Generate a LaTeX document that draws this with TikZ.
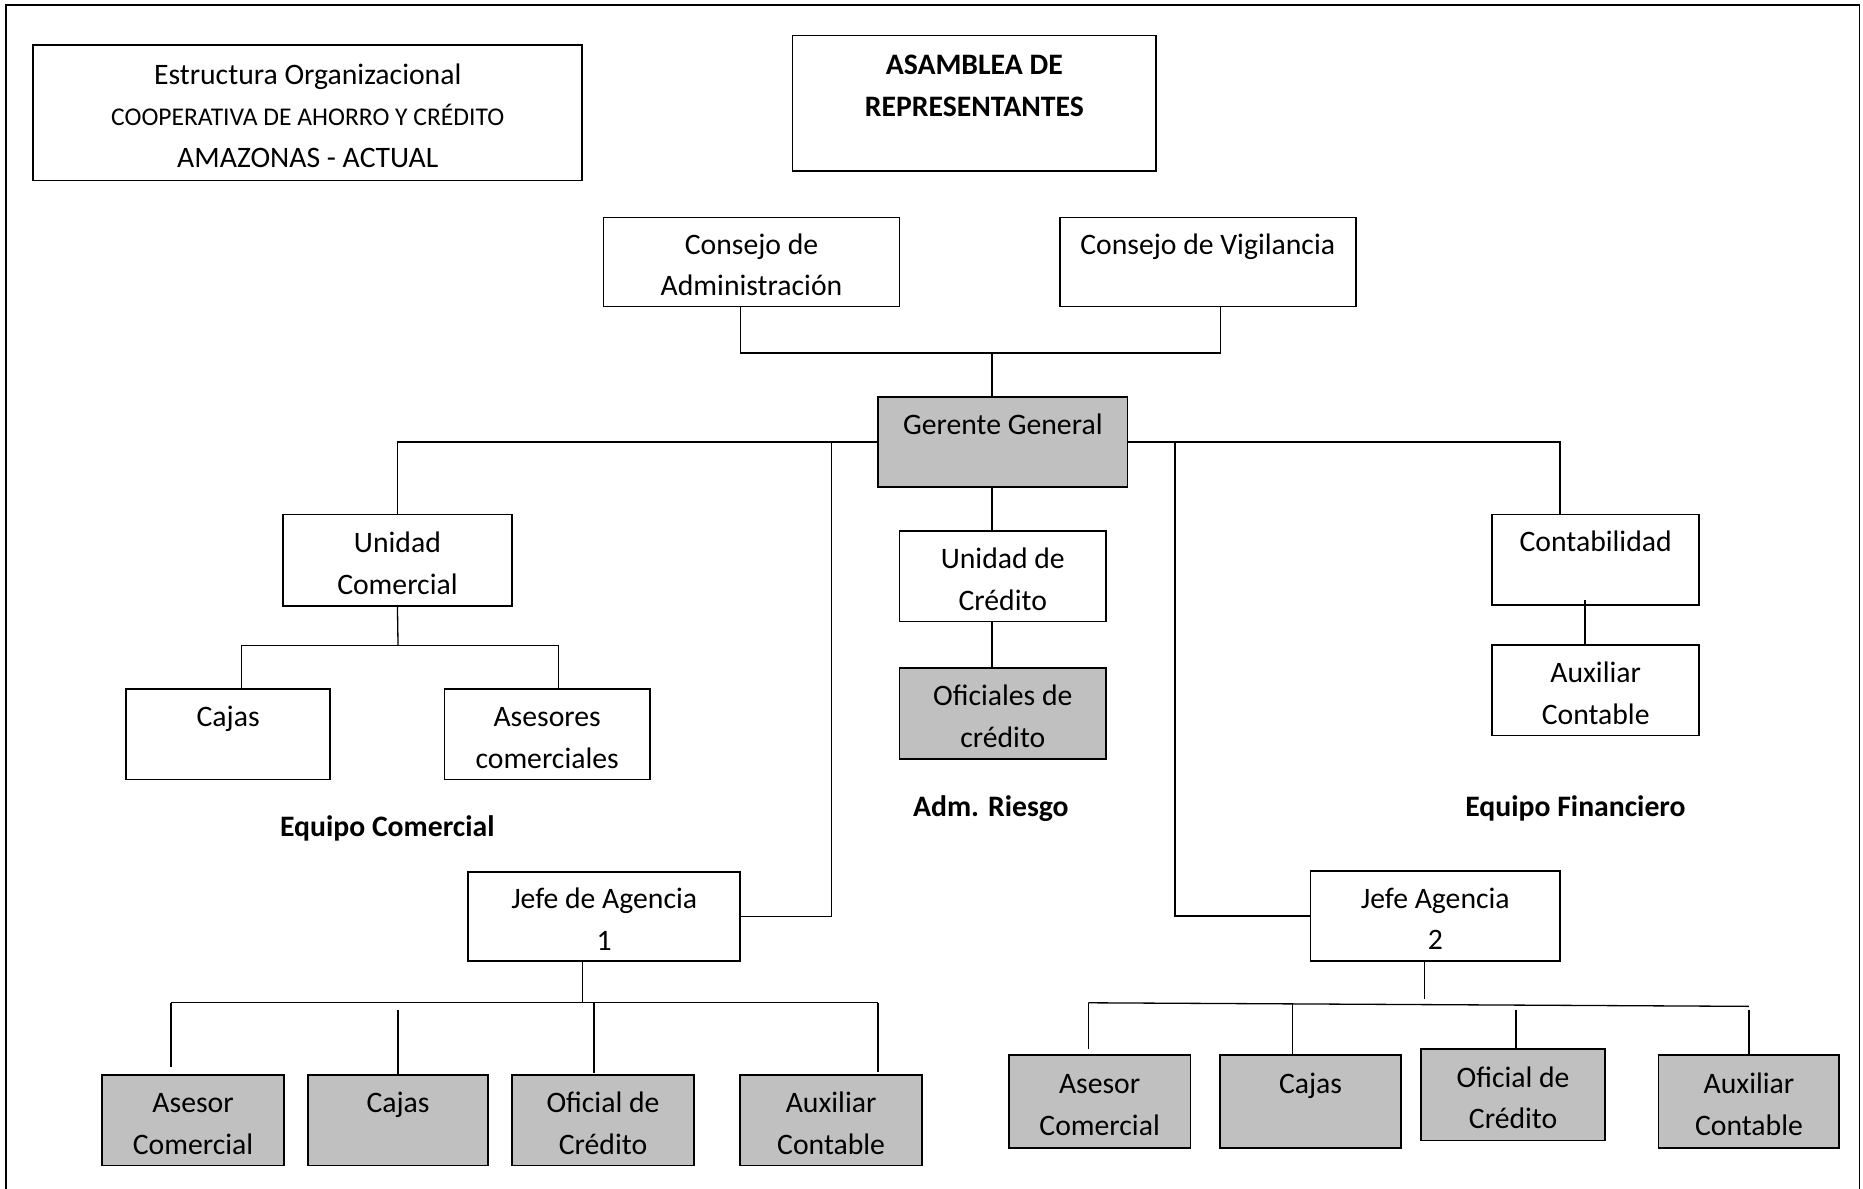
\documentclass[tikz,border=0pt]{standalone}
\usepackage{fontspec}
\setmainfont{Carlito}
\definecolor{boxgray}{HTML}{C0C0C0}
% line strut for box texts: 35pt line, sitting a little low in the box
\newcommand\boxline{\rule[-6.5pt]{0pt}{35pt}}
\begin{document}
\begin{tikzpicture}[x=1pt,y=-1pt,
  every node/.style={inner sep=0pt, outer sep=0pt},
  unit/.style={draw, line width=1.4pt, align=center, font=\fontsize{25}{35}\selectfont},
  shaded/.style={unit, fill=boxgray},
  link/.style={line width=1.1pt},
  team/.style={font=\fontsize{25}{35}\selectfont\bfseries}]
\useasboundingbox (0,0) rectangle (1568,1000);

% outer frame
\draw[line width=1.4pt] (5,1002) -- (5,4) -- (1565,4) -- (1565,1002);

% title and governing bodies
\node[unit, minimum width=462, minimum height=114] (title) at (259,95)
  {\boxline Estructura Organizacional\\{\fontsize{21.5}{35}\selectfont\boxline COOPERATIVA DE AHORRO Y CRÉDITO}\\\boxline AMAZONAS - ACTUAL};
\node[unit, font=\fontsize{25}{35}\selectfont\bfseries, minimum width=306, minimum height=114] (asam) at (820,87)
  {\boxline ASAMBLEA DE\\\boxline REPRESENTANTES\\\boxline};
\node[unit, minimum width=249, minimum height=75] (ca) at (632.5,220.5) {\boxline Consejo de\\\boxline Administración};
\node[unit, minimum width=249, minimum height=75] (cv) at (1016.5,220.5) {\boxline Consejo de Vigilancia\\\boxline};
\node[shaded, minimum width=210, minimum height=76] (gg) at (844,372) {\boxline Gerente General\\\boxline};

% commercial team
\node[unit, minimum width=193, minimum height=77] (uc) at (334.5,471.5) {\boxline Unidad\\\boxline Comercial};
\node[unit, minimum width=172, minimum height=76] (caj) at (192,618) {\boxline Cajas\\\boxline};
\node[unit, minimum width=173, minimum height=76] (ase) at (460.5,618) {\boxline Asesores\\\boxline comerciales};
\node[team] (eqc) at (326,697) {\strut Equipo Comercial};

% risk
\node[unit, minimum width=174, minimum height=76] (ucr) at (844,485) {\boxline Unidad de\\\boxline Crédito};
\node[shaded, minimum width=174, minimum height=77] (ofc) at (844,600.5) {\boxline Oficiales de\\\boxline crédito};
\node[team] (adm) at (834,680) {\strut Adm. Riesgo};

% financial team
\node[unit, minimum width=174, minimum height=76] (cont) at (1343,471) {\boxline Contabilidad\\\boxline};
\node[unit, minimum width=174, minimum height=76] (aux) at (1343,581) {\boxline Auxiliar\\\boxline Contable};
\node[team] (eqf) at (1326,680) {\strut Equipo Financiero};

% agencies
\node[unit, minimum width=229, minimum height=75] (ja1) at (508.5,771.5) {\boxline Jefe de Agencia\\\boxline 1};
\node[unit, minimum width=210, minimum height=76] (ja2) at (1208,771) {\boxline Jefe Agencia\\\boxline 2};

\node[shaded, minimum width=153, minimum height=76] (r1a) at (162.5,943) {\boxline Asesor\\\boxline Comercial};
\node[shaded, minimum width=152, minimum height=76] (r1b) at (335,943) {\boxline Cajas\\\boxline};
\node[shaded, minimum width=153, minimum height=76] (r1c) at (507.5,943) {\boxline Oficial de\\\boxline Crédito};
\node[shaded, minimum width=153, minimum height=76] (r1d) at (699.5,943) {\boxline Auxiliar\\\boxline Contable};

\node[shaded, minimum width=153, minimum height=78] (r2a) at (925.5,927) {\boxline Asesor\\\boxline Comercial};
\node[shaded, minimum width=152, minimum height=78] (r2b) at (1103,927) {\boxline Cajas\\\boxline};
\node[shaded, minimum width=155, minimum height=77] (r2c) at (1273.5,921.5) {\boxline Oficial de\\\boxline Crédito};
\node[shaded, minimum width=152, minimum height=78] (r2d) at (1472,927) {\boxline Auxiliar\\\boxline Contable};

% connectors: councils to general manager
\coordinate (jtop) at (835,297);
\coordinate (caL) at (623,297);
\coordinate (cvR) at (1027,297);
\draw[link] (caL |- ca.south) -- (caL) -- (cvR) -- (cvR |- cv.south);
\draw[link] (jtop) -- (jtop |- gg.north);

% general manager to units
\coordinate (fin) at (1313,372);
\coordinate (ag1) at (700,372);
\coordinate (ag2) at (989,372);
\draw[link] (gg.west) -| (uc.north);
\draw[link] (gg.east) -- (fin) -- (fin |- cont.north);
\draw[link] (ag1) |- (ja1.east);
\draw[link] (ag2) |- (ja2.west);
\draw[link] (gg.south -| jtop) -- (ucr.north -| jtop);
\draw[link] (ucr.south -| jtop) -- (ofc.north -| jtop);

% commercial unit
\coordinate (ucm) at (335,543);
\coordinate (ucl) at (203,543);
\coordinate (ucrr) at (470,543);
\draw[link] (uc.south) -- (ucm);
\draw[link] (ucl |- caj.north) -- (ucl) -- (ucrr) -- (ucrr |- ase.north);

% accounting
\coordinate (ctx) at (1334,505);
\draw[link] (ctx) -- (ctx |- aux.north);

% agency 1
\coordinate (a1m) at (490,844);
\coordinate (a1l) at (144,844);
\coordinate (a1r) at (739,844);
\coordinate (a1c) at (500,844);
\draw[link] (a1m |- ja1.south) -- (a1m);
\draw[link] (a1l) -- (a1r);
\draw[link] (a1l) -- ([yshift=7pt]r1a.north -| a1l);
\draw[link] ([yshift=-6pt]a1l -| r1b.north) -- (r1b.north);
\draw[link] (a1c) -- ([yshift=2pt]r1c.north -| a1c);
\draw[link] (a1r) -- ([yshift=3pt]r1d.north -| a1r);

% agency 2
\coordinate (a2m) at (1199,841);
\coordinate (a2l) at (916,844);
\coordinate (a2r) at (1472,847);
\coordinate (a2b) at (1088,845);
\coordinate (a2c) at (1276,850);
\coordinate (a2d) at (1472,850);
\draw[link] (a2m |- ja2.south) -- (a2m);
\draw[link] (a2l) -- (a2r);
\draw[link] (a2l) -- ([yshift=5pt]r2a.north -| a2l);
\draw[link] (a2b) -- (r2b.north -| a2b);
\draw[link] (a2c) -- ([yshift=-1pt]r2c.north -| a2c);
\draw[link] (a2d) -- (r2d.north);
\end{tikzpicture}
\end{document}
